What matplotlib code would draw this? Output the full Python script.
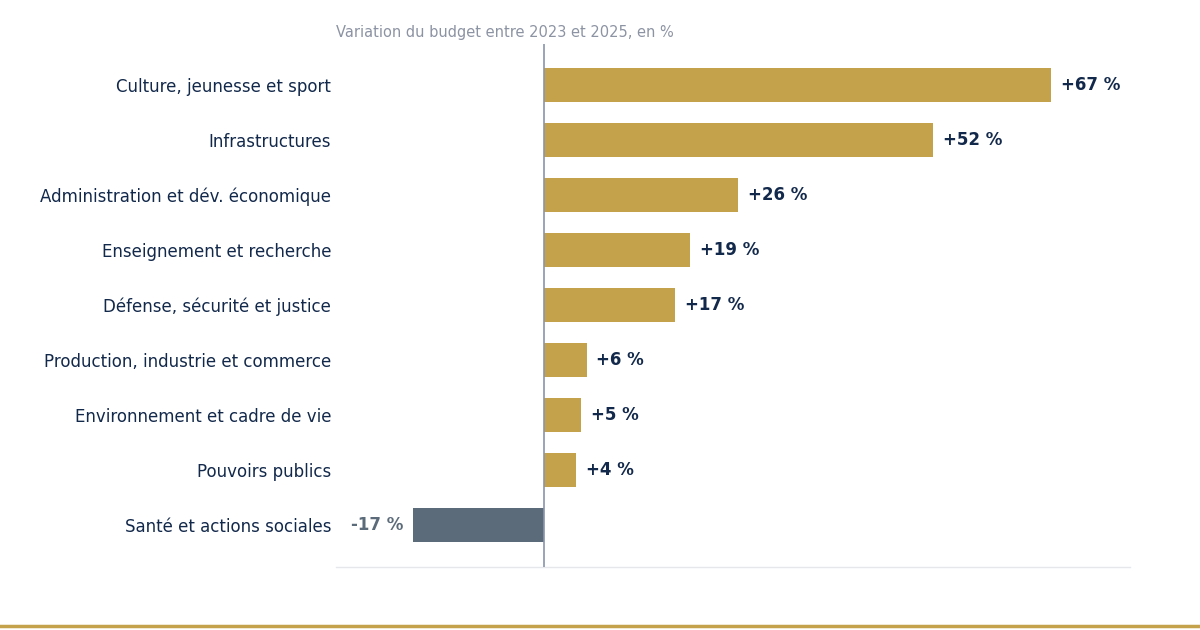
import matplotlib.pyplot as plt
from matplotlib.lines import Line2D

categories = [
    'Culture, jeunesse et sport',
    'Infrastructures',
    'Administration et dév. économique',
    'Enseignement et recherche',
    'Défense, sécurité et justice',
    'Production, industrie et commerce',
    'Environnement et cadre de vie',
    'Pouvoirs publics',
    'Santé et actions sociales',
]
values = [67, 51.4, 25.6, 19.3, 17.3, 5.6, 4.9, 4.2, -17.3]
labels = ['+67 %', '+52 %', '+26 %', '+19 %', '+17 %', '+6 %', '+5 %', '+4 %', '-17 %']

GOLD = '#C4A14B'
SLATE = '#5C6B7A'
NAVY = '#13294B'

plt.rcParams['font.family'] = ['DejaVu Sans']

fig = plt.figure(figsize=(12, 6.3), dpi=100)
ax = fig.add_axes([0.28, 0.1, 0.6617, 0.83])

y = list(range(len(categories)))
colors = [GOLD if v >= 0 else SLATE for v in values]
ax.barh(y, values, height=0.62, color=colors, zorder=2)

for yi, v, lab in zip(y, values, labels):
    if v >= 0:
        ax.annotate(lab, (v, yi), xytext=(7, 0), textcoords='offset points',
                    ha='left', va='center', fontsize=12, fontweight='bold', color=NAVY)
    else:
        ax.annotate(lab, (v, yi), xytext=(-7, 0), textcoords='offset points',
                    ha='right', va='center', fontsize=12, fontweight='bold', color=SLATE)

ax.axvline(0, color='#8A94AA', lw=1.2, zorder=3)
ax.set_xlim(-27.5, 77.4)
ax.set_ylim(8.764, -0.745)
ax.set_yticks(y)
ax.set_yticklabels(categories, fontsize=12, color=NAVY)
ax.tick_params(axis='y', length=0, pad=3.5)
ax.set_xticks([])
for s in ['top', 'right', 'left']:
    ax.spines[s].set_visible(False)
ax.spines['bottom'].set_color('#E5E7EB')
ax.spines['bottom'].set_linewidth(1)

fig.text(0.28, 1 - 32 / 630, 'Variation du budget entre 2023 et 2025, en %',
         ha='left', va='center', fontsize=10.5, color='#8C93A3')

fig.add_artist(Line2D([0, 1], [1 - 626 / 630, 1 - 626 / 630], color=GOLD, lw=2.5,
                      transform=fig.transFigure))

fig.savefig('out.png', dpi=100)
